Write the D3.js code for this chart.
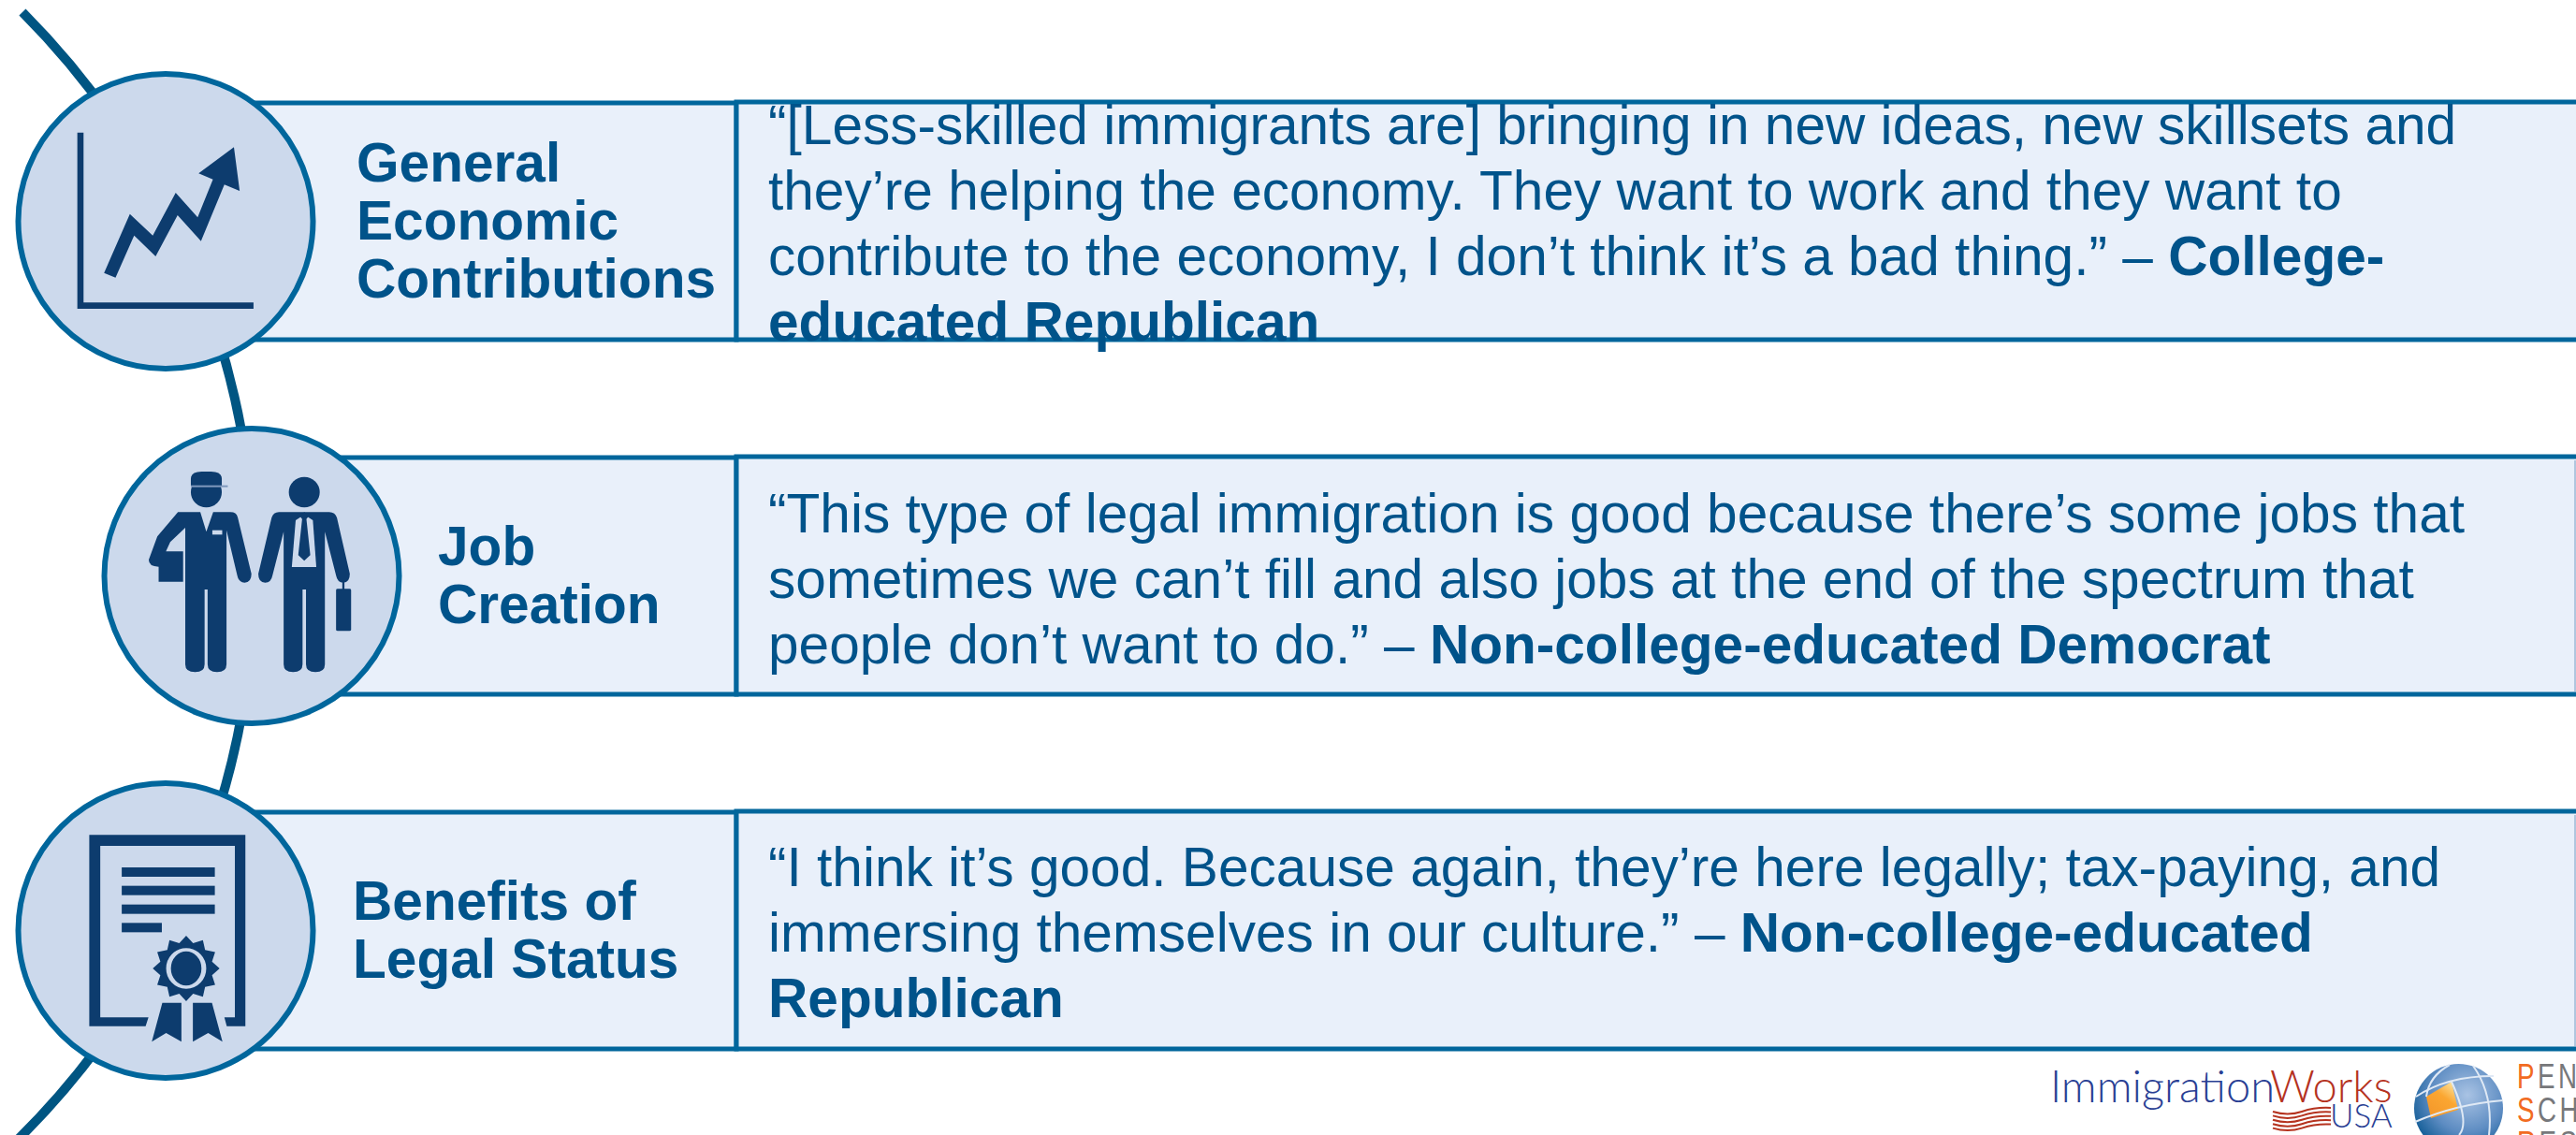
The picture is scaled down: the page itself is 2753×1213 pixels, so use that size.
<!DOCTYPE html>
<html>
<head>
<meta charset="utf-8">
<script src="https://cdn.jsdelivr.net/npm/d3@7"></script>
<style>
    html, body { margin: 0; padding: 0; background: #fff; overflow: hidden; }
    text { font-family: "Liberation Sans", Arial, sans-serif; }
</style>
</head>
<body>
<svg id="chart" width="2753" height="1213"></svg>
<script>
// Data
const categories = ['economic', 'jobs', 'status'];
const categoryLabels = [
    ['General', 'Economic', 'Contributions'],
    ['Job', 'Creation'],
    ['Benefits of', 'Legal Status']
];
const quotes = [
    [
        [['“[Less-skilled immigrants are] bringing in new ideas, new skillsets and', false]],
        [['they’re helping the economy. They want to work and they want to', false]],
        [['contribute to the economy, I don’t think it’s a bad thing.” – ', false], ['College-', true]],
        [['educated Republican', true]]
    ],
    [
        [['“This type of legal immigration is good because there’s some jobs that', false]],
        [['sometimes we can’t fill and also jobs at the end of the spectrum that', false]],
        [['people don’t want to do.” – ', false], ['Non-college-educated Democrat', true]]
    ],
    [
        [['“I think it’s good. Because again, they’re here legally; tax-paying, and', false]],
        [['immersing themselves in our culture.” – ', false], ['Non-college-educated', true]],
        [['Republican', true]]
    ]
];

const COLOR_ARC = '#005582';
const COLOR_BORDER = '#00669c';
const COLOR_CIRCLE = '#ccd9ec';
const COLOR_BAND = '#e9f0fa';
const COLOR_TEXT = '#00538a';
const COLOR_ICON = '#0d3c6e';

const svg = d3.select('#chart');

// Scales, one row per category
const rowY = d3.scalePoint().domain(categories).range([236.5, 994.5]);
const circleX = d3.scaleOrdinal().domain(categories).range([177, 269, 177]);
const labelX = d3.scaleOrdinal().domain(categories).range([381, 468, 377]);
const labelFirst = d3.scaleOrdinal().domain(categories).range([194, 604, 983]);
const quoteFirst = d3.scaleOrdinal().domain(categories).range([154, 568.5, 946.5]);
const bandHalf = 126.5;
const dividerX = 787;
const rightX = 2762;

// Connecting arc behind the rows
svg.append('path')
    .attr('d', d3.arc()({
        innerRadius: 850.6,
        outerRadius: 850.6,
        startAngle: Math.atan2(24 + 579, 613 - 13),
        endAngle: Math.PI - Math.atan2(10 + 579, 1225 - 613)
    }))
    .attr('transform', 'translate(-579,613)')
    .attr('fill', 'none')
    .attr('stroke', COLOR_ARC)
    .attr('stroke-width', 10)
    .attr('stroke-linecap', 'round');

const rows = svg.selectAll('g.row').data(categories).join('g').attr('class', 'row');

rows.append('rect')
    .attr('x', (c) => circleX(c))
    .attr('y', (c) => rowY(c) - bandHalf)
    .attr('width', (c) => dividerX - circleX(c))
    .attr('height', bandHalf * 2)
    .attr('fill', COLOR_BAND)
    .attr('stroke', COLOR_BORDER)
    .attr('stroke-width', 5);

rows.append('rect')
    .attr('x', dividerX)
    .attr('y', (c) => rowY(c) - bandHalf - 1)
    .attr('width', rightX - dividerX)
    .attr('height', bandHalf * 2 + 1)
    .attr('fill', COLOR_BAND)
    .attr('stroke', COLOR_BORDER)
    .attr('stroke-width', 5);

// Faint right edge, only the lower two boxes show it
rows.filter((c, i) => i > 0).append('line')
    .attr('x1', 2752).attr('x2', 2752)
    .attr('y1', (c) => rowY(c) - bandHalf + 3)
    .attr('y2', (c) => rowY(c) + bandHalf - 3)
    .attr('stroke', '#9db8d4')
    .attr('stroke-width', 1.5);

rows.append('circle')
    .attr('cx', (c) => circleX(c))
    .attr('cy', (c) => rowY(c))
    .attr('r', 157.5)
    .attr('fill', COLOR_CIRCLE)
    .attr('stroke', COLOR_BORDER)
    .attr('stroke-width', 6);

// Row labels
rows.each(function (c, i) {
    const g = d3.select(this);
    g.selectAll('text.label').data(categoryLabels[i]).join('text')
        .attr('class', 'label')
        .attr('x', labelX(c))
        .attr('y', (d, k) => labelFirst(c) + k * 62)
        .attr('font-size', 58.6)
        .attr('font-weight', 700)
        .attr('fill', COLOR_TEXT)
        .text((d) => d);

    const lines = g.selectAll('text.quote').data(quotes[i]).join('text')
        .attr('class', 'quote')
        .attr('x', 821)
        .attr('y', (d, k) => quoteFirst(c) + k * 70)
        .attr('font-size', 58.6)
        .attr('fill', COLOR_TEXT);
    lines.selectAll('tspan').data((d) => d).join('tspan')
        .attr('font-weight', (d) => d[1] ? 700 : 400)
        .text((d) => d[0]);
});

// Icons are drawn in the pixel grid of their crop, then squeezed back to the page
const polygon = (g, pts, fill) => g.append('path')
    .attr('d', d3.line()(pts) + 'Z')
    .attr('fill', fill || COLOR_ICON);

// Rising chart icon
const iconChart = svg.append('g').attr('transform', 'scale(' + 1 / 1.96 + ',' + 1 / 3 + ')');
polygon(iconChart, [[162, 425], [175, 425], [175, 970], [531, 970], [531, 990], [162, 990]]);
polygon(iconChart, [[218, 875], [272, 686], [320, 755], [368, 618], [414, 697], [446, 575], [416, 556],
    [490, 472], [502, 612], [470, 592], [421, 773], [372, 690], [326, 822], [281, 755], [242, 890]]);

// Two workers icon
const iconJobs = svg.append('g').attr('transform', 'translate(80,430) scale(' + 1 / 2.178 + ',' + 1 / 3 + ')');
iconJobs.append('ellipse').attr('cx', 306).attr('cy', 288).attr('rx', 36).attr('ry', 49).attr('fill', COLOR_ICON);
iconJobs.append('path')
    .attr('d', 'M270,268V245Q270,222 295,222H317Q342,222 342,245V268Z')
    .attr('fill', COLOR_ICON);
iconJobs.append('rect').attr('x', 270).attr('y', 266).attr('width', 86).attr('height', 6).attr('fill', '#7f98bd');
iconJobs.append('path')
    .attr('d', 'M240,352H292L306,415L322,352H362Q376,352 379,368L411,550Q411,578 395,578Q381,578 378,555' +
        'L353,410V840Q353,865 331,865Q309,865 309,840V600H302V840Q302,865 280,865Q257,865 257,840V402' +
        'L222,448L212,478H252V575H195V527Q172,527 172,505L192,430Z')
    .attr('fill', COLOR_ICON);
iconJobs.append('rect').attr('x', 320).attr('y', 410).attr('width', 23).attr('height', 14).attr('fill', COLOR_CIRCLE);
iconJobs.append('ellipse').attr('cx', 534).attr('cy', 288).attr('rx', 36).attr('ry', 49).attr('fill', COLOR_ICON);
iconJobs.append('path')
    .attr('d', 'M475,352H592Q606,352 610,370L640,550Q640,578 625,578Q611,578 608,555L582,415V840Q582,865 560,865' +
        'Q538,865 538,840V600H530V840Q530,865 508,865Q486,865 486,840V415L460,555Q457,578 443,578Q427,578 427,550' +
        'L458,370Q462,352 475,352Z')
    .attr('fill', COLOR_ICON);
polygon(iconJobs, [[514, 378], [534, 360], [554, 378], [562, 528], [505, 528]], COLOR_CIRCLE);
polygon(iconJobs, [[534, 352], [524, 365], [529, 374], [520, 490], [534, 508], [548, 490], [539, 374], [544, 365]]);
iconJobs.append('line').attr('x1', 625).attr('x2', 625).attr('y1', 575).attr('y2', 600)
    .attr('stroke', COLOR_ICON).attr('stroke-width', 5);
iconJobs.append('rect').attr('x', 608).attr('y', 598).attr('width', 35).attr('height', 135).attr('rx', 4)
    .attr('fill', COLOR_ICON);

// Certificate icon
const iconStatus = svg.append('g').attr('transform', 'translate(0,810) scale(' + 1 / 1.96 + ',' + 1 / 3 + ')');
polygon(iconStatus, [[187, 247], [514, 247], [514, 860], [475, 860], [470, 832], [492, 832], [492, 282],
    [210, 282], [210, 832], [311, 832], [305, 860], [187, 860]]);
iconStatus.selectAll('rect.text-line').data([[351, 195], [410, 195], [470, 195], [529, 84]]).join('rect')
    .attr('class', 'text-line')
    .attr('x', 255)
    .attr('y', (d) => d[0])
    .attr('width', (d) => d[1])
    .attr('height', 30)
    .attr('fill', COLOR_ICON);
const sealPts = d3.range(24).map((k) => {
    const a = k * Math.PI / 12, big = k % 2 === 0;
    return [390 + (big ? 70 : 56) * Math.sin(a), 675 - (big ? 105 : 84) * Math.cos(a)];
});
polygon(iconStatus, sealPts);
iconStatus.append('ellipse').attr('cx', 390).attr('cy', 675).attr('rx', 37).attr('ry', 60)
    .attr('fill', COLOR_ICON).attr('stroke', COLOR_CIRCLE).attr('stroke-width', 10);
polygon(iconStatus, [[340, 785], [380, 785], [380, 910], [348, 882], [318, 910]]);
polygon(iconStatus, [[404, 785], [444, 785], [466, 910], [436, 882], [404, 910]]);

// Logos in the bottom right corner
const logoWorks = svg.append('g');
logoWorks.append('text')
    .attr('x', 2191).attr('y', 1178)
    .attr('font-size', 47)
    .style('font-family', 'Lato, sans-serif')
    .style('font-weight', 300)
    .attr('fill', '#2a3f94')
    .text('Immigration');
logoWorks.append('text')
    .attr('x', 2426).attr('y', 1178)
    .attr('font-size', 47)
    .style('font-family', 'Lato, sans-serif')
    .style('font-weight', 300)
    .attr('fill', '#b5331f')
    .text('Works');
logoWorks.append('text')
    .attr('x', 2490).attr('y', 1205)
    .attr('font-size', 35)
    .style('font-family', 'Lato, sans-serif')
    .style('font-weight', 300)
    .attr('fill', '#2a3f94')
    .text('USA');
logoWorks.selectAll('path').data(d3.range(5)).join('path')
    .attr('d', (k) => {
        const y = 1186 + k * 4.4;
        return 'M2429,' + (y + 2) + 'Q2445,' + (y + 7) + ' 2460,' + (y + 2) + 'T2491,' + (y - 2);
    })
    .attr('fill', 'none')
    .attr('stroke', '#b5331f')
    .attr('stroke-width', 2);

const defs = svg.append('defs');
const globeFill = defs.append('radialGradient').attr('id', 'globe-fill')
    .attr('cx', '0.6').attr('cy', '0.35').attr('r', '0.7');
globeFill.append('stop').attr('offset', '0').attr('stop-color', '#a9c3e4');
globeFill.append('stop').attr('offset', '0.6').attr('stop-color', '#5d8cc2');
globeFill.append('stop').attr('offset', '1').attr('stop-color', '#0e5a94');
const patchFill = defs.append('linearGradient').attr('id', 'patch-fill')
    .attr('x1', '0.9').attr('y1', '0').attr('x2', '0.3').attr('y2', '0.9');
patchFill.append('stop').attr('offset', '0').attr('stop-color', '#fbe9a8');
patchFill.append('stop').attr('offset', '0.5').attr('stop-color', '#fba631');
patchFill.append('stop').attr('offset', '1').attr('stop-color', '#f59a2c');

const logoGlobe = svg.append('g');
logoGlobe.append('circle').attr('cx', 2627.5).attr('cy', 1184.5).attr('r', 47.5).attr('fill', 'url(#globe-fill)');
polygon(logoGlobe, [[2593, 1172], [2620, 1156], [2627, 1186], [2598, 1195]], 'url(#patch-fill)');
logoGlobe.selectAll('path.grid').data([
    'M2582,1172Q2615,1150 2665,1150',
    'M2581,1199Q2625,1180 2675,1176',
    'M2593,1172Q2596,1150 2618,1138',
    'M2620,1156Q2640,1200 2628,1213',
    'M2643,1139Q2665,1170 2660,1213'
]).join('path')
    .attr('class', 'grid')
    .attr('d', (d) => d)
    .attr('fill', 'none')
    .attr('stroke', '#dfe9f5')
    .attr('stroke-width', 2);

// Condensed by hand, the narrow Liberation cut is not there to use
const logoLines = [['P', 'EN', 1163], ['S', 'CH', 1199], ['R', 'ES', 1235]];
const logoPenn = svg.append('g').selectAll('text').data(logoLines).join('text')
    .attr('transform', (d) => 'translate(2690,' + d[2] + ') scale(0.75,1)')
    .attr('font-size', 37)
    .attr('letter-spacing', 4.6);
logoPenn.append('tspan').attr('fill', '#f26b21').text((d) => d[0]);
logoPenn.append('tspan').attr('fill', '#77787b').text((d) => d[1]);
</script>
</body>
</html>
